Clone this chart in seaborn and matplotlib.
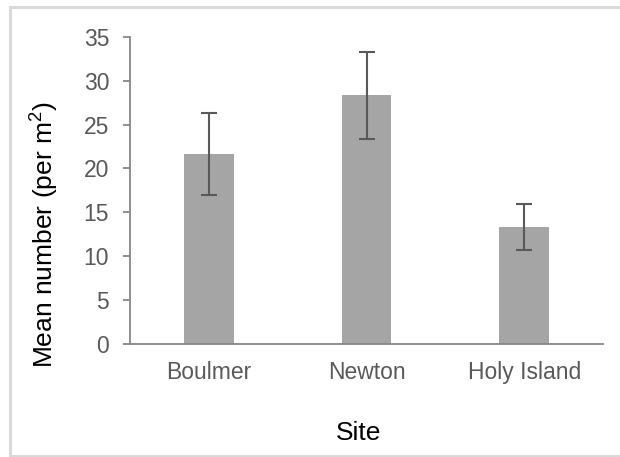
import matplotlib
matplotlib.use("Agg")
import matplotlib.pyplot as plt
from matplotlib.patches import Rectangle
import seaborn as sns
import pandas as pd

sites = ["Boulmer", "Newton", "Holy Island"]
means = [21.65, 28.35, 13.35]
errors = [4.65, 4.95, 2.65]
y_ticks = [0, 5, 10, 15, 20, 25, 30, 35]

sns.set_theme(style="white")
plt.rcParams["font.family"] = ["Liberation Sans", "DejaVu Sans"]
plt.rcParams["mathtext.fontset"] = "custom"
plt.rcParams["mathtext.rm"] = "Liberation Sans"
plt.rcParams["mathtext.it"] = "Liberation Sans"
plt.rcParams["mathtext.default"] = "regular"

df = pd.DataFrame({"Site": sites, "Mean": means, "Err": errors})

fig = plt.figure(figsize=(6.2, 4.57), dpi=100)
ax = fig.add_axes([130 / 620, 1 - 344 / 457, 473 / 620, (344 - 36.7) / 457])

sns.barplot(data=df, x="Site", y="Mean", color="#a5a5a5", saturation=1,
            width=0.316, errorbar=None, ax=ax)
for p in ax.patches:
    p.set_edgecolor("none")
ax.errorbar(x=df["Site"], y=df["Mean"], yerr=df["Err"], fmt="none",
            ecolor="#595959", elinewidth=1.5, capsize=6, capthick=1.5)

ax.set_xlim(-0.5, 2.5)
ax.set_ylim(0, 35)
ax.set_yticks(y_ticks)
ax.set_yticklabels([str(v) for v in y_ticks])

for s in ["top", "right"]:
    ax.spines[s].set_visible(False)
for s in ["left", "bottom"]:
    ax.spines[s].set_color("#868686")
    ax.spines[s].set_linewidth(1.3)

ax.tick_params(axis="y", which="major", direction="out", length=5, width=1.3,
               color="#868686", left=True, labelsize=16.5, labelcolor="#595959", pad=10)
ax.tick_params(axis="x", which="major", length=0, labelsize=16.5,
               labelcolor="#595959", pad=12)

ax.set_xlabel("Site", fontsize=19, color="black")
ax.xaxis.label.set_va("center")
ax.xaxis.set_label_coords((358.5 - 130) / 473, (344 - 433) / 307.3)
ax.set_ylabel("Mean number (per m$^{2}$)", fontsize=19, color="black")
ax.yaxis.label.set_va("center")
ax.yaxis.set_label_coords((45 - 130) / 473, (344 - 235) / 307.3)

# chart-area border (light grey)
border = "#d9d9d9"
fig.add_artist(Rectangle((9 / 620, 1 - 9 / 457), 1 - 9 / 620, 3 / 457,
                         transform=fig.transFigure, color=border, lw=0))
fig.add_artist(Rectangle((9 / 620, 0), 3 / 620, 1 - 6 / 457,
                         transform=fig.transFigure, color=border, lw=0))
fig.add_artist(Rectangle((9 / 620, 0), 1 - 9 / 620, 2 / 457,
                         transform=fig.transFigure, color=border, lw=0))

fig.savefig("out.png", dpi=100, facecolor="white")
